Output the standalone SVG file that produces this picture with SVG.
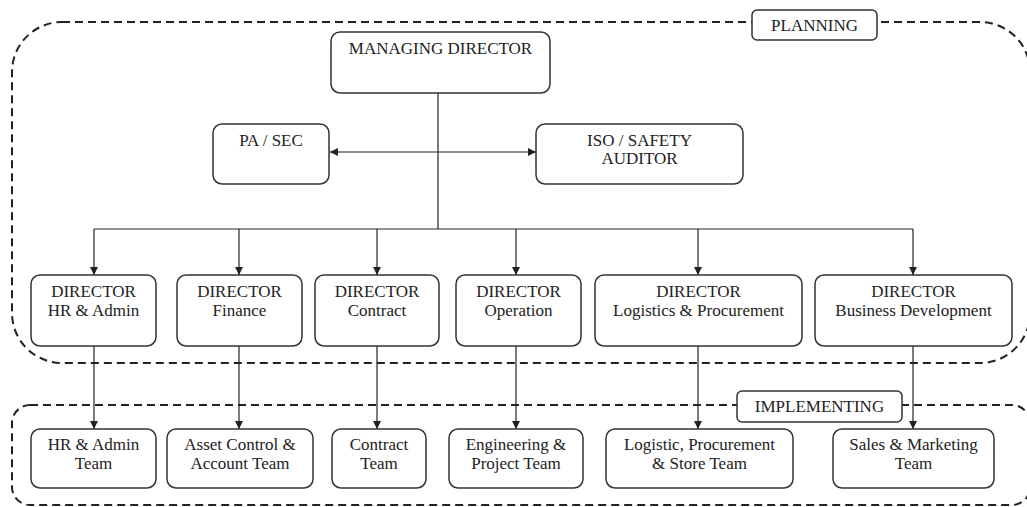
<svg xmlns="http://www.w3.org/2000/svg" width="1027" height="507" viewBox="0 0 1027 507">
<style>
.box{fill:#fff;stroke:#333;stroke-width:1.5}
.grp{fill:none;stroke:#222;stroke-width:2;stroke-dasharray:8 5}
.lbl{fill:#fff;stroke:#333;stroke-width:1.5}
.t{font-size:17px;fill:#222;text-anchor:middle}
.c{fill:none;stroke:#222;stroke-width:1.2}
</style>
<defs>
<marker id="ah" viewBox="0 0 10 10" refX="10" refY="5" markerWidth="8" markerHeight="8" markerUnits="userSpaceOnUse" orient="auto-start-reverse">
<path d="M0,0 L10,5 L0,10 z" fill="#222"/>
</marker>
</defs>
<g id="planning-group">
<rect class="grp" x="12" y="22" width="1018" height="341" rx="50" ry="50"/>
</g>
<g id="implementing-group">
<rect class="grp" x="12" y="405" width="1018" height="100" rx="18" ry="18"/>
</g>
<g id="connectors">
<line class="c" x1="438" y1="93" x2="438" y2="229"/>
<line class="c" x1="330" y1="152" x2="536" y2="152" marker-start="url(#ah)" marker-end="url(#ah)"/>
<line class="c" x1="94" y1="229" x2="913" y2="229"/>
<line class="c" x1="94" y1="229" x2="94" y2="275" marker-end="url(#ah)"/>
<line class="c" x1="239" y1="229" x2="239" y2="275" marker-end="url(#ah)"/>
<line class="c" x1="377" y1="229" x2="377" y2="275" marker-end="url(#ah)"/>
<line class="c" x1="516" y1="229" x2="516" y2="275" marker-end="url(#ah)"/>
<line class="c" x1="698" y1="229" x2="698" y2="275" marker-end="url(#ah)"/>
<line class="c" x1="913" y1="229" x2="913" y2="275" marker-end="url(#ah)"/>
<line class="c" x1="94" y1="346" x2="94" y2="429" marker-end="url(#ah)"/>
<line class="c" x1="239" y1="346" x2="239" y2="429" marker-end="url(#ah)"/>
<line class="c" x1="377" y1="346" x2="377" y2="429" marker-end="url(#ah)"/>
<line class="c" x1="516" y1="346" x2="516" y2="429" marker-end="url(#ah)"/>
<line class="c" x1="698" y1="346" x2="698" y2="429" marker-end="url(#ah)"/>
<line class="c" x1="913" y1="346" x2="913" y2="429" marker-end="url(#ah)"/>
</g>
<g font-family="'Liberation Serif', 'DejaVu Serif', 'Times New Roman', serif">
<g id="planning-label">
<rect class="lbl" x="752" y="10" width="125" height="30" rx="5"/>
<text class="t" x="814.5" y="31">PLANNING</text>
</g>
<g id="implementing-label">
<rect class="lbl" x="737" y="391" width="165" height="31" rx="5"/>
<text class="t" x="819.5" y="412">IMPLEMENTING</text>
</g>
<g id="md">
<rect class="box" x="331" y="32" width="219" height="61" rx="9"/>
<text class="t" x="440.5" y="54">MANAGING DIRECTOR</text>
</g>
<g id="pa-sec">
<rect class="box" x="213" y="124" width="116" height="60" rx="9"/>
<text class="t" x="271" y="146">PA / SEC</text>
</g>
<g id="iso">
<rect class="box" x="536" y="124" width="207" height="60" rx="9"/>
<text class="t" x="639.5" y="146">ISO / SAFETY</text>
<text class="t" x="639.5" y="164">AUDITOR</text>
</g>
<g id="dir-hr">
<rect class="box" x="31" y="275" width="125" height="71" rx="9"/>
<text class="t" x="93.5" y="297">DIRECTOR</text>
<text class="t" x="93.5" y="316">HR &amp; Admin</text>
</g>
<g id="dir-finance">
<rect class="box" x="177" y="275" width="125" height="71" rx="9"/>
<text class="t" x="239.5" y="297">DIRECTOR</text>
<text class="t" x="239.5" y="316">Finance</text>
</g>
<g id="dir-contract">
<rect class="box" x="315" y="275" width="124" height="71" rx="9"/>
<text class="t" x="377" y="297">DIRECTOR</text>
<text class="t" x="377" y="316">Contract</text>
</g>
<g id="dir-operation">
<rect class="box" x="456" y="275" width="125" height="71" rx="9"/>
<text class="t" x="518.5" y="297">DIRECTOR</text>
<text class="t" x="518.5" y="316">Operation</text>
</g>
<g id="dir-logistics">
<rect class="box" x="595" y="275" width="207" height="71" rx="9"/>
<text class="t" x="698.5" y="297">DIRECTOR</text>
<text class="t" x="698.5" y="316">Logistics &amp; Procurement</text>
</g>
<g id="dir-bd">
<rect class="box" x="815" y="275" width="197" height="71" rx="9"/>
<text class="t" x="913.5" y="297">DIRECTOR</text>
<text class="t" x="913.5" y="316">Business Development</text>
</g>
<g id="team-hr">
<rect class="box" x="31" y="429" width="125" height="59" rx="9"/>
<text class="t" x="93.5" y="450">HR &amp; Admin</text>
<text class="t" x="93.5" y="469">Team</text>
</g>
<g id="team-asset">
<rect class="box" x="167" y="429" width="146" height="59" rx="9"/>
<text class="t" x="240" y="450">Asset Control &amp;</text>
<text class="t" x="240" y="469">Account Team</text>
</g>
<g id="team-contract">
<rect class="box" x="332" y="429" width="94" height="59" rx="9"/>
<text class="t" x="379" y="450">Contract</text>
<text class="t" x="379" y="469">Team</text>
</g>
<g id="team-eng">
<rect class="box" x="449" y="429" width="134" height="59" rx="9"/>
<text class="t" x="516" y="450">Engineering &amp;</text>
<text class="t" x="516" y="469">Project Team</text>
</g>
<g id="team-logistic">
<rect class="box" x="606" y="429" width="187" height="59" rx="9"/>
<text class="t" x="699.5" y="450">Logistic, Procurement</text>
<text class="t" x="699.5" y="469">&amp; Store Team</text>
</g>
<g id="team-sales">
<rect class="box" x="833" y="429" width="161" height="59" rx="9"/>
<text class="t" x="913.5" y="450">Sales &amp; Marketing</text>
<text class="t" x="913.5" y="469">Team</text>
</g>
</g>
</svg>
